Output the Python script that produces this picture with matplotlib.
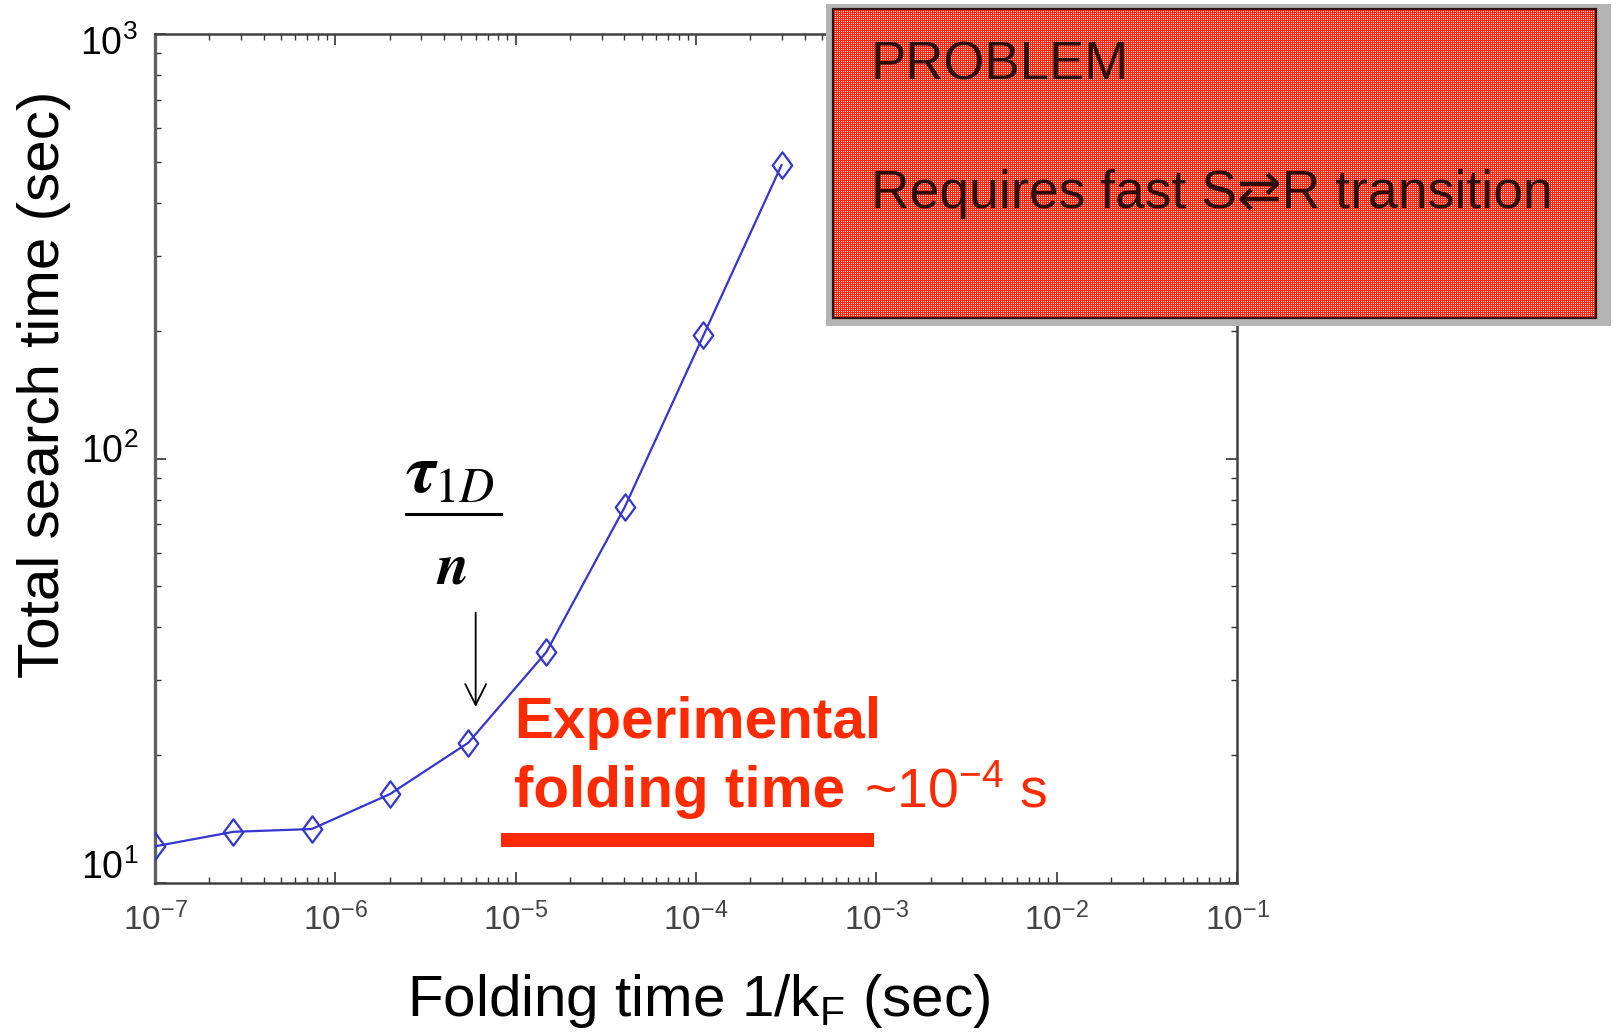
import numpy as np
import matplotlib
matplotlib.use("Agg")
import matplotlib.pyplot as plt
import matplotlib.transforms as mtransforms
from matplotlib.patches import Rectangle
from matplotlib.path import Path

# Folding time 1/k_F (sec) and total search time (sec)
folding_time = [1.0e-7, 2.72e-7, 7.39e-7, 2.01e-6, 5.46e-6, 1.48e-5, 4.03e-5, 1.10e-4, 2.98e-4]
search_time = [12.2, 13.2, 13.4, 16.2, 21.4, 35.0, 76.9, 195.0, 491.0]

x_ticks = [1e-7, 1e-6, 1e-5, 1e-4, 1e-3, 1e-2, 1e-1]
x_tick_labels = [r"$10^{-7}$", r"$10^{-6}$", r"$10^{-5}$", r"$10^{-4}$",
                 r"$10^{-3}$", r"$10^{-2}$", r"$10^{-1}$"]
y_ticks = [10, 100, 1000]
y_tick_labels = [r"$10^{1}$", r"$10^{2}$", r"$10^{3}$"]
y_label_shift = [15, 6, -10]   # vertical nudge of each y label, in pixels

# experimental folding-time range and the tau_1D / n marker
exp_range = [8.3e-6, 9.7e-4]
exp_level = 12.6
tau_x = 6.0e-6
tau_arrow = [44.0, 25.6]

W, H = 1616, 1032
plt.rcParams["font.family"] = ["Liberation Sans", "DejaVu Sans"]
plt.rcParams["mathtext.default"] = "regular"

fig = plt.figure(figsize=(W / 100, H / 100), dpi=100)
fig.patch.set_facecolor("white")


def P(px, py):
    return px / W, 1 - py / H


ax = fig.add_axes([155 / W, 1 - 883 / H, (1237 - 155) / W, (883 - 34) / H])
ax.set_xscale("log")
ax.set_yscale("log")
ax.set_xlim(1e-7, 1e-1)
ax.set_ylim(10, 1000)

diamond = Path([(0, 1), (0.74, 0), (0, -1), (-0.74, 0), (0, 1)],
               [Path.MOVETO, Path.LINETO, Path.LINETO, Path.LINETO, Path.CLOSEPOLY])
ax.plot(folding_time, search_time, color="#3535d0", lw=1.6,
        marker=diamond, markersize=19, markerfacecolor="none",
        markeredgecolor="#3535d0", markeredgewidth=1.6, zorder=3)

ax.set_xticks(x_ticks)
ax.set_xticklabels(x_tick_labels, fontsize=24, color="#444444")
ax.set_yticks(y_ticks)
ax.set_yticklabels([])
ax.tick_params(which="both", direction="in", top=True, right=True)
ax.tick_params(which="major", length=8, width=1.2, color="#333333")
ax.tick_params(which="minor", length=4, width=1.0, color="#333333")
ax.tick_params(axis="x", pad=14)
for sp in ax.spines.values():
    sp.set_color("#404040")
    sp.set_linewidth(1.8)
ax.spines["left"].set_linewidth(2.4)
ax.spines["left"].set_color("#606060")

for yv, lab, dy in zip(y_ticks, y_tick_labels, y_label_shift):
    tr = mtransforms.offset_copy(ax.get_yaxis_transform(), fig=fig,
                                 x=-17, y=dy, units="dots")
    ax.text(0, yv, lab, transform=tr, fontsize=27, color="black",
            ha="right", va="center", clip_on=False)

# experimental folding time bar
ax.plot(exp_range, [exp_level, exp_level], color="#ff2a00", lw=10.1,
        solid_capstyle="butt", zorder=4)

# tau_1D / n arrow
ax.annotate("", xy=(tau_x, tau_arrow[1]), xytext=(tau_x, tau_arrow[0]),
            arrowprops=dict(arrowstyle="->,head_length=1.5,head_width=0.75",
                            color="black", lw=1.3))

fig.text(*P(450, 474), r"$\boldsymbol{\tau}_{\mathrm{1}\mathit{D}}$",
         transform=fig.transFigure, math_fontfamily="stix", fontsize=50,
         ha="center", va="center")
fig.add_artist(plt.Line2D([406 / W, 501 / W], [1 - 514 / H, 1 - 514 / H],
                          color="black", lw=2.2, transform=fig.transFigure))
fig.text(*P(452, 568), r"$\boldsymbol{n}$", transform=fig.transFigure,
         math_fontfamily="stix", fontsize=42, ha="center", va="center")

# red annotation text
fig.text(*P(514, 738), "Experimental", color="#ff2a00", fontsize=42,
         fontweight="bold", ha="left", va="baseline")
fig.text(*P(514, 807), "folding time", color="#ff2a00", fontsize=42,
         fontweight="bold", ha="left", va="baseline")
fig.text(*P(864, 807), r"~10$^{-4}$ s", color="#ff2a00", fontsize=40,
         ha="left", va="baseline")

# axis labels
fig.text(*P(44, 384), "Total search time (sec)", rotation=90, fontsize=42,
         ha="center", va="center")
fig.text(*P(699, 1016), r"Folding time 1/k$_{F}$ (sec)", fontsize=42,
         ha="center", va="baseline")

# PROBLEM box: gray frame, patterned red fill, dark border
fig.add_artist(Rectangle(P(826, 326), 785 / W, 322 / H, transform=fig.transFigure,
                         facecolor="#b4b4b4", edgecolor="none", zorder=5))
bx0, by0, bx1, by1 = 833, 9, 1596, 318
hh, ww = by1 - by0, bx1 - bx0
yy, xx = np.mgrid[0:hh, 0:ww]
tex = np.empty((hh, ww, 3))
tex[:] = np.array([1.0, 0.15, 0.05])
light = ((xx + yy) % 2 == 0) & (yy % 2 == 0)
tex[light] = np.array([1.0, 0.86, 0.82])
fig.figimage(tex, xo=bx0, yo=H - by1, origin="upper", zorder=6)
fig.add_artist(Rectangle(P(bx0, by1), ww / W, hh / H, transform=fig.transFigure,
                         facecolor="none", edgecolor="#301010", lw=1.6, zorder=7))

fig.text(*P(871, 65), "PROBLEM", fontsize=38, color="#2a0805",
         ha="left", va="center", zorder=8)
fig.text(*P(871, 194), "Requires fast S\u21c4R transition", fontsize=38.5,
         color="#2a0805", ha="left", va="center", zorder=8)

fig.savefig("out.png", dpi=100, facecolor="white")
